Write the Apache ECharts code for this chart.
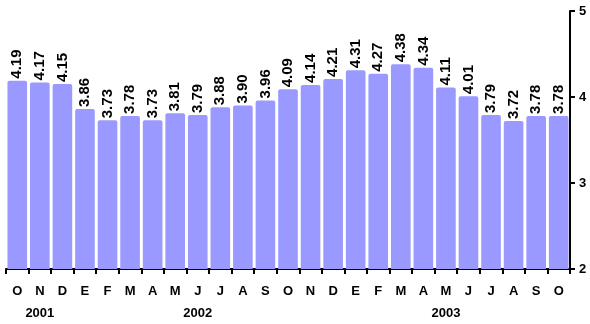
<!DOCTYPE html>
<html>
<head>
<meta charset="utf-8">
<script src="https://cdn.jsdelivr.net/npm/echarts@6/dist/echarts.min.js"></script>
<style>
  html, body { margin: 0; padding: 0; background: #fff; }
  #chart { width: 590px; height: 324px; }
</style>
</head>
<body>
<div id="chart"></div>
<script>
// Monthly values, October 2001 through October 2003
const months = ['O','N','D','E','F','M','A','M','J','J','A','S','O','N','D','E','F','M','A','M','J','J','A','S','O'];
const values = [4.19,4.17,4.15,3.86,3.73,3.78,3.73,3.81,3.79,3.88,3.90,3.96,4.09,4.14,4.21,4.31,4.27,4.38,4.34,4.11,4.01,3.79,3.72,3.78,3.78];
// Year captions placed under the middle month of each year's span
const years = ['','2001','','','','','','','2002','','','','','','','','','','','2003','','','','',''];
const yTicks = [2, 3, 4, 5];

const FONT = '"Liberation Sans", Arial, sans-serif';
const chart = echarts.init(document.getElementById('chart'), null, { renderer: 'canvas' });

// Vertical value label drawn just above a bar's top, reading bottom-to-top
function renderValueLabel(params, api) {
  const pt = api.coord([api.value(0), api.value(1)]);
  return {
    type: 'text',
    x: pt[0],
    y: pt[1] - 2,
    rotation: Math.PI / 2,
    style: {
      text: api.value(1).toFixed(2),
      fontFamily: 'Liberation Sans',
      fontWeight: 'bold',
      fontSize: 15,
      fill: '#000',
      align: 'left',
      verticalAlign: 'middle'
    }
  };
}

chart.setOption({
  animation: false,
  grid: { left: 6, right: 20, top: 11, bottom: 55 },
  xAxis: [
    {
      type: 'category',
      data: months,
      position: 'bottom',
      axisLine: { lineStyle: { color: '#000', width: 2 } },
      axisTick: { show: true, length: 5, lineStyle: { color: '#000', width: 2 } },
      axisLabel: { interval: 0, color: '#000', fontFamily: FONT, fontWeight: 'bold', fontSize: 13, margin: 16 }
    },
    {
      type: 'category',
      data: years,
      position: 'bottom',
      offset: 22,
      axisLine: { show: false },
      axisTick: { show: false },
      axisLabel: { interval: 0, color: '#000', fontFamily: FONT, fontWeight: 'bold', fontSize: 13, margin: 16 }
    }
  ],
  yAxis: {
    type: 'value',
    position: 'right',
    min: yTicks[0],
    max: yTicks[yTicks.length - 1],
    interval: 1,
    splitLine: { show: false },
    axisLine: { show: true, lineStyle: { color: '#000', width: 2 } },
    axisTick: { show: true, length: 5, lineStyle: { color: '#000', width: 2 } },
    axisLabel: { color: '#000', fontFamily: FONT, fontWeight: 'bold', fontSize: 13, margin: 9 }
  },
  series: [
    {
      type: 'bar',
      data: values,
      barCategoryGap: '13%',
      itemStyle: { color: '#9999ff', borderRadius: [2, 2, 0, 0] }
    },
    {
      type: 'custom',
      name: 'labels',
      data: values.map(function (v, i) { return [i, v]; }),
      encode: { x: 0, y: 1 },
      renderItem: renderValueLabel,
      clip: false,
      silent: true,
      z: 5
    }
  ]
});
</script>
</body>
</html>
